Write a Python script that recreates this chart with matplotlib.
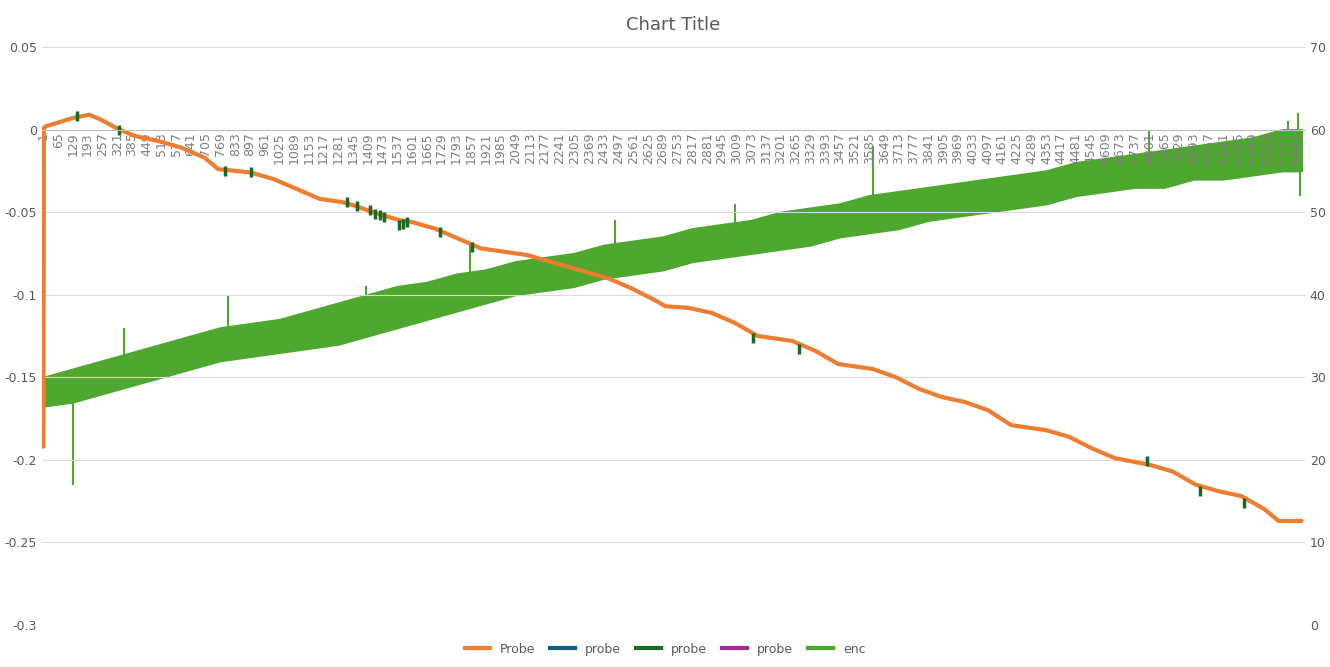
import numpy as np
import matplotlib.pyplot as plt
from matplotlib.lines import Line2D

# orange "Probe" (left axis), key readings along the sample index
probe_idx = [1, 3, 12, 60, 130, 200, 250, 330, 400, 500, 600, 700, 760, 900, 1000,
             1100, 1200, 1300, 1350, 1450, 1550, 1600, 1700, 1800, 1900, 2000, 2100,
             2200, 2300, 2450, 2550, 2650, 2700, 2800, 2900, 3000, 3100, 3250, 3350,
             3450, 3600, 3700, 3800, 3900, 4000, 4100, 4200, 4350, 4450, 4550, 4650,
             4800, 4900, 5000, 5100, 5200, 5300, 5360, 5460]
probe_val = [-0.192, 0.001, 0.002, 0.004, 0.007, 0.009, 0.006, 0.0, -0.004, -0.007,
             -0.011, -0.017, -0.024, -0.026, -0.030, -0.036, -0.042, -0.044, -0.046,
             -0.051, -0.055, -0.056, -0.060, -0.066, -0.072, -0.074, -0.076, -0.080,
             -0.084, -0.090, -0.096, -0.103, -0.107, -0.108, -0.111, -0.117, -0.125,
             -0.128, -0.134, -0.142, -0.145, -0.150, -0.157, -0.162, -0.165, -0.170,
             -0.179, -0.182, -0.186, -0.193, -0.199, -0.203, -0.207, -0.215, -0.219,
             -0.222, -0.230, -0.237, -0.237]

# dark green "probe" marks sitting on the orange curve
mark_idx = [145, 330, 790, 900, 1320, 1360, 1420, 1440, 1460, 1480, 1545, 1560,
            1580, 1720, 1860, 3080, 3280, 4790, 5020, 5210]
mark_val = [0.008, 0.0, -0.025, -0.026, -0.044, -0.046, -0.049, -0.051, -0.052,
            -0.053, -0.058, -0.057, -0.056, -0.062, -0.071, -0.126, -0.133, -0.201,
            -0.219, -0.226]

# green "enc" (right axis) noisy band, read per bin of 128 samples
enc_idx = [1, 128, 256, 384, 512, 640, 768, 896, 1024, 1152, 1280, 1408, 1536,
           1664, 1792, 1920, 2048, 2176, 2304, 2432, 2560, 2688, 2816, 2944, 3072,
           3200, 3328, 3456, 3584, 3712, 3840, 3968, 4096, 4224, 4352, 4480, 4608,
           4736, 4864, 4992, 5120, 5248, 5376, 5460]
enc_low = [26.5, 27, 28, 29, 30, 31, 32, 32.5, 33, 33.5, 34, 35, 36, 37, 38, 39,
           40, 40.5, 41, 42, 42.5, 43, 44, 44.5, 45, 45.5, 46, 47, 47.5, 48, 49,
           49.5, 50, 50.5, 51, 52, 52.5, 53, 53, 54, 54, 54.5, 55, 55]
enc_high = [30, 31, 32, 33, 34, 35, 36, 36.5, 37, 38, 39, 40, 41, 41.5, 42.5, 43,
            44, 44.5, 45, 46, 46.5, 47, 48, 48.5, 49, 50, 50.5, 51, 52, 52.5, 53,
            53.5, 54, 54.5, 55, 56, 56.5, 57, 57.5, 58, 58.5, 59, 60, 60]
spike_idx = [130, 350, 800, 1400, 1850, 2480, 3000, 3600, 4800, 5400, 5445, 5455]
spike_val = [17, 36, 40, 41, 46, 49, 51, 58, 60, 61, 62, 52]

orange = "#ED7D31"
green = "#4EA72E"
dgreen = "#196B24"

fig = plt.figure(figsize=(13.3, 6.67), dpi=100)
ax = fig.add_axes([0.0316, 0.063, 0.9496, 0.8666])
ax2 = ax.twinx()

ax.set_zorder(2)
ax.patch.set_visible(False)

ax2.fill_between(enc_idx, enc_low, enc_high, color=green, lw=1.5, edgecolor=green)
ax2.vlines(spike_idx, [np.interp(i, enc_idx, enc_low) for i in spike_idx],
           spike_val, color=green, lw=1.5)
ax2.set_ylim(0, 70)
ax2.set_yticks(range(0, 71, 10))

ax.plot(probe_idx, probe_val, color=orange, lw=3, solid_capstyle="round")
ax.plot(mark_idx, mark_val, ls="none", marker="|", ms=7, mew=2.5, color=dgreen)
ax.set_ylim(-0.3, 0.05)
ax.set_yticks(np.arange(-0.3, 0.051, 0.05))
ax.set_yticklabels(["-0.3", "-0.25", "-0.2", "-0.15", "-0.1", "-0.05", "0", "0.05"])
ax.set_xlim(-5, 5475)
ticks = list(range(1, 5442, 64))
ax.set_xticks(ticks)
ax.set_xticklabels([str(t) for t in ticks])
ax.tick_params(axis="x", length=0, pad=2, labelrotation=90, labelsize=9,
               labelcolor="#7F7F7F")
ax.spines["bottom"].set_position(("data", 0))
ax.grid(axis="y", color="#D9D9D9", lw=0.8)
ax.set_axisbelow(True)

for a in (ax, ax2):
    for s in ("top", "left", "right"):
        a.spines[s].set_visible(False)
    a.tick_params(axis="y", length=0, labelsize=9, labelcolor="#595959")
ax2.spines["bottom"].set_visible(False)
ax.spines["bottom"].set_color("#BFBFBF")

ax.set_title("Chart Title", fontsize=13, color="#595959", pad=12)

handles = [Line2D([], [], color=orange, lw=3), Line2D([], [], color="#156082", lw=3),
           Line2D([], [], color=dgreen, lw=3), Line2D([], [], color="#A02B93", lw=3),
           Line2D([], [], color=green, lw=3)]
fig.legend(handles, ["Probe", "probe", "probe", "probe", "enc"], loc="lower center",
           ncol=5, frameon=False, fontsize=9, labelcolor="#595959",
           bbox_to_anchor=(0.5, 0.0), handlelength=2, columnspacing=1.2)

fig.savefig("out.png")
